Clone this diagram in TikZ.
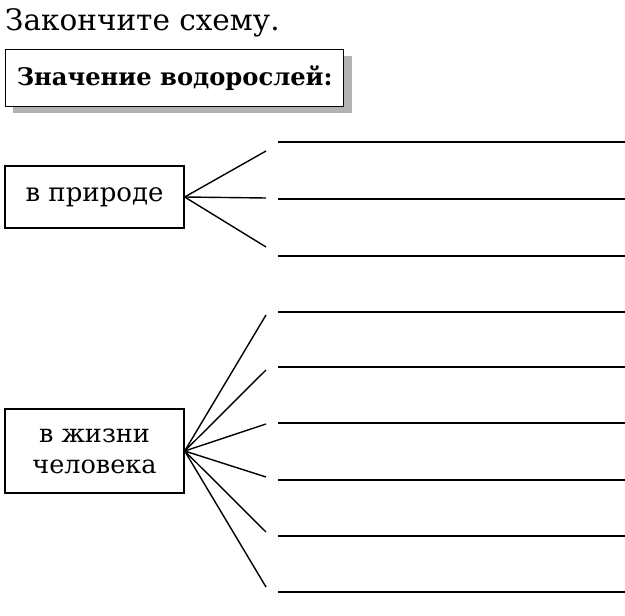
\documentclass[tikz,border=0pt]{standalone}
\usepackage{fontspec}
\setmainfont{DejaVu Serif}
\usetikzlibrary{positioning}

\tikzset{
  box/.style={draw, line width=1.4pt, fill=white, inner sep=0pt, minimum width=179pt},
  fan/.style={line width=1.4pt},
  answer/.style={line width=1.4pt}
}

\begin{document}
\begin{tikzpicture}[x=1pt, y=-1pt]
      \useasboundingbox (0,0) rectangle (625,616);
      \node[font=\fontsize{29.5}{32}\selectfont, anchor=base west, inner sep=0pt] (task) at (5,30) {Закончите схему.};
      % title with shadow
      \fill[gray!60] (13,56) rectangle (352,113);
      \node[box, minimum width=338pt, minimum height=57pt, anchor=north west,
            font=\bfseries\fontsize{24.2}{28}\selectfont] (head) at (5,49) {Значение водорослей:};
      % in nature
      \node[box, minimum height=62pt, font=\fontsize{26}{30}\selectfont] (nature) at (94.5,197) {в природе};
      \foreach \y [count=\i] in {151,198,247}
        \coordinate (n\i) at (266,\y);
      \foreach \i in {1,...,3}
        \draw[fan] (nature.east) -- (n\i);
      \foreach \y in {142,199,256}
        \draw[answer] (278,\y) -- (625,\y);
      % in human life
      \node[box, minimum height=84pt, align=center,
            font=\fontsize{25.5}{31}\selectfont] (human) at (94.5,451) {в жизни\\человека};
      \foreach \y [count=\i] in {315,370,424,477,532,587}
        \coordinate (h\i) at (266,\y);
      \foreach \i in {1,...,6}
        \draw[fan] (human.east) -- (h\i);
      \foreach \y in {312,367,423,480,536,592}
        \draw[answer] (278,\y) -- (625,\y);
    \end{tikzpicture}
\end{document}
